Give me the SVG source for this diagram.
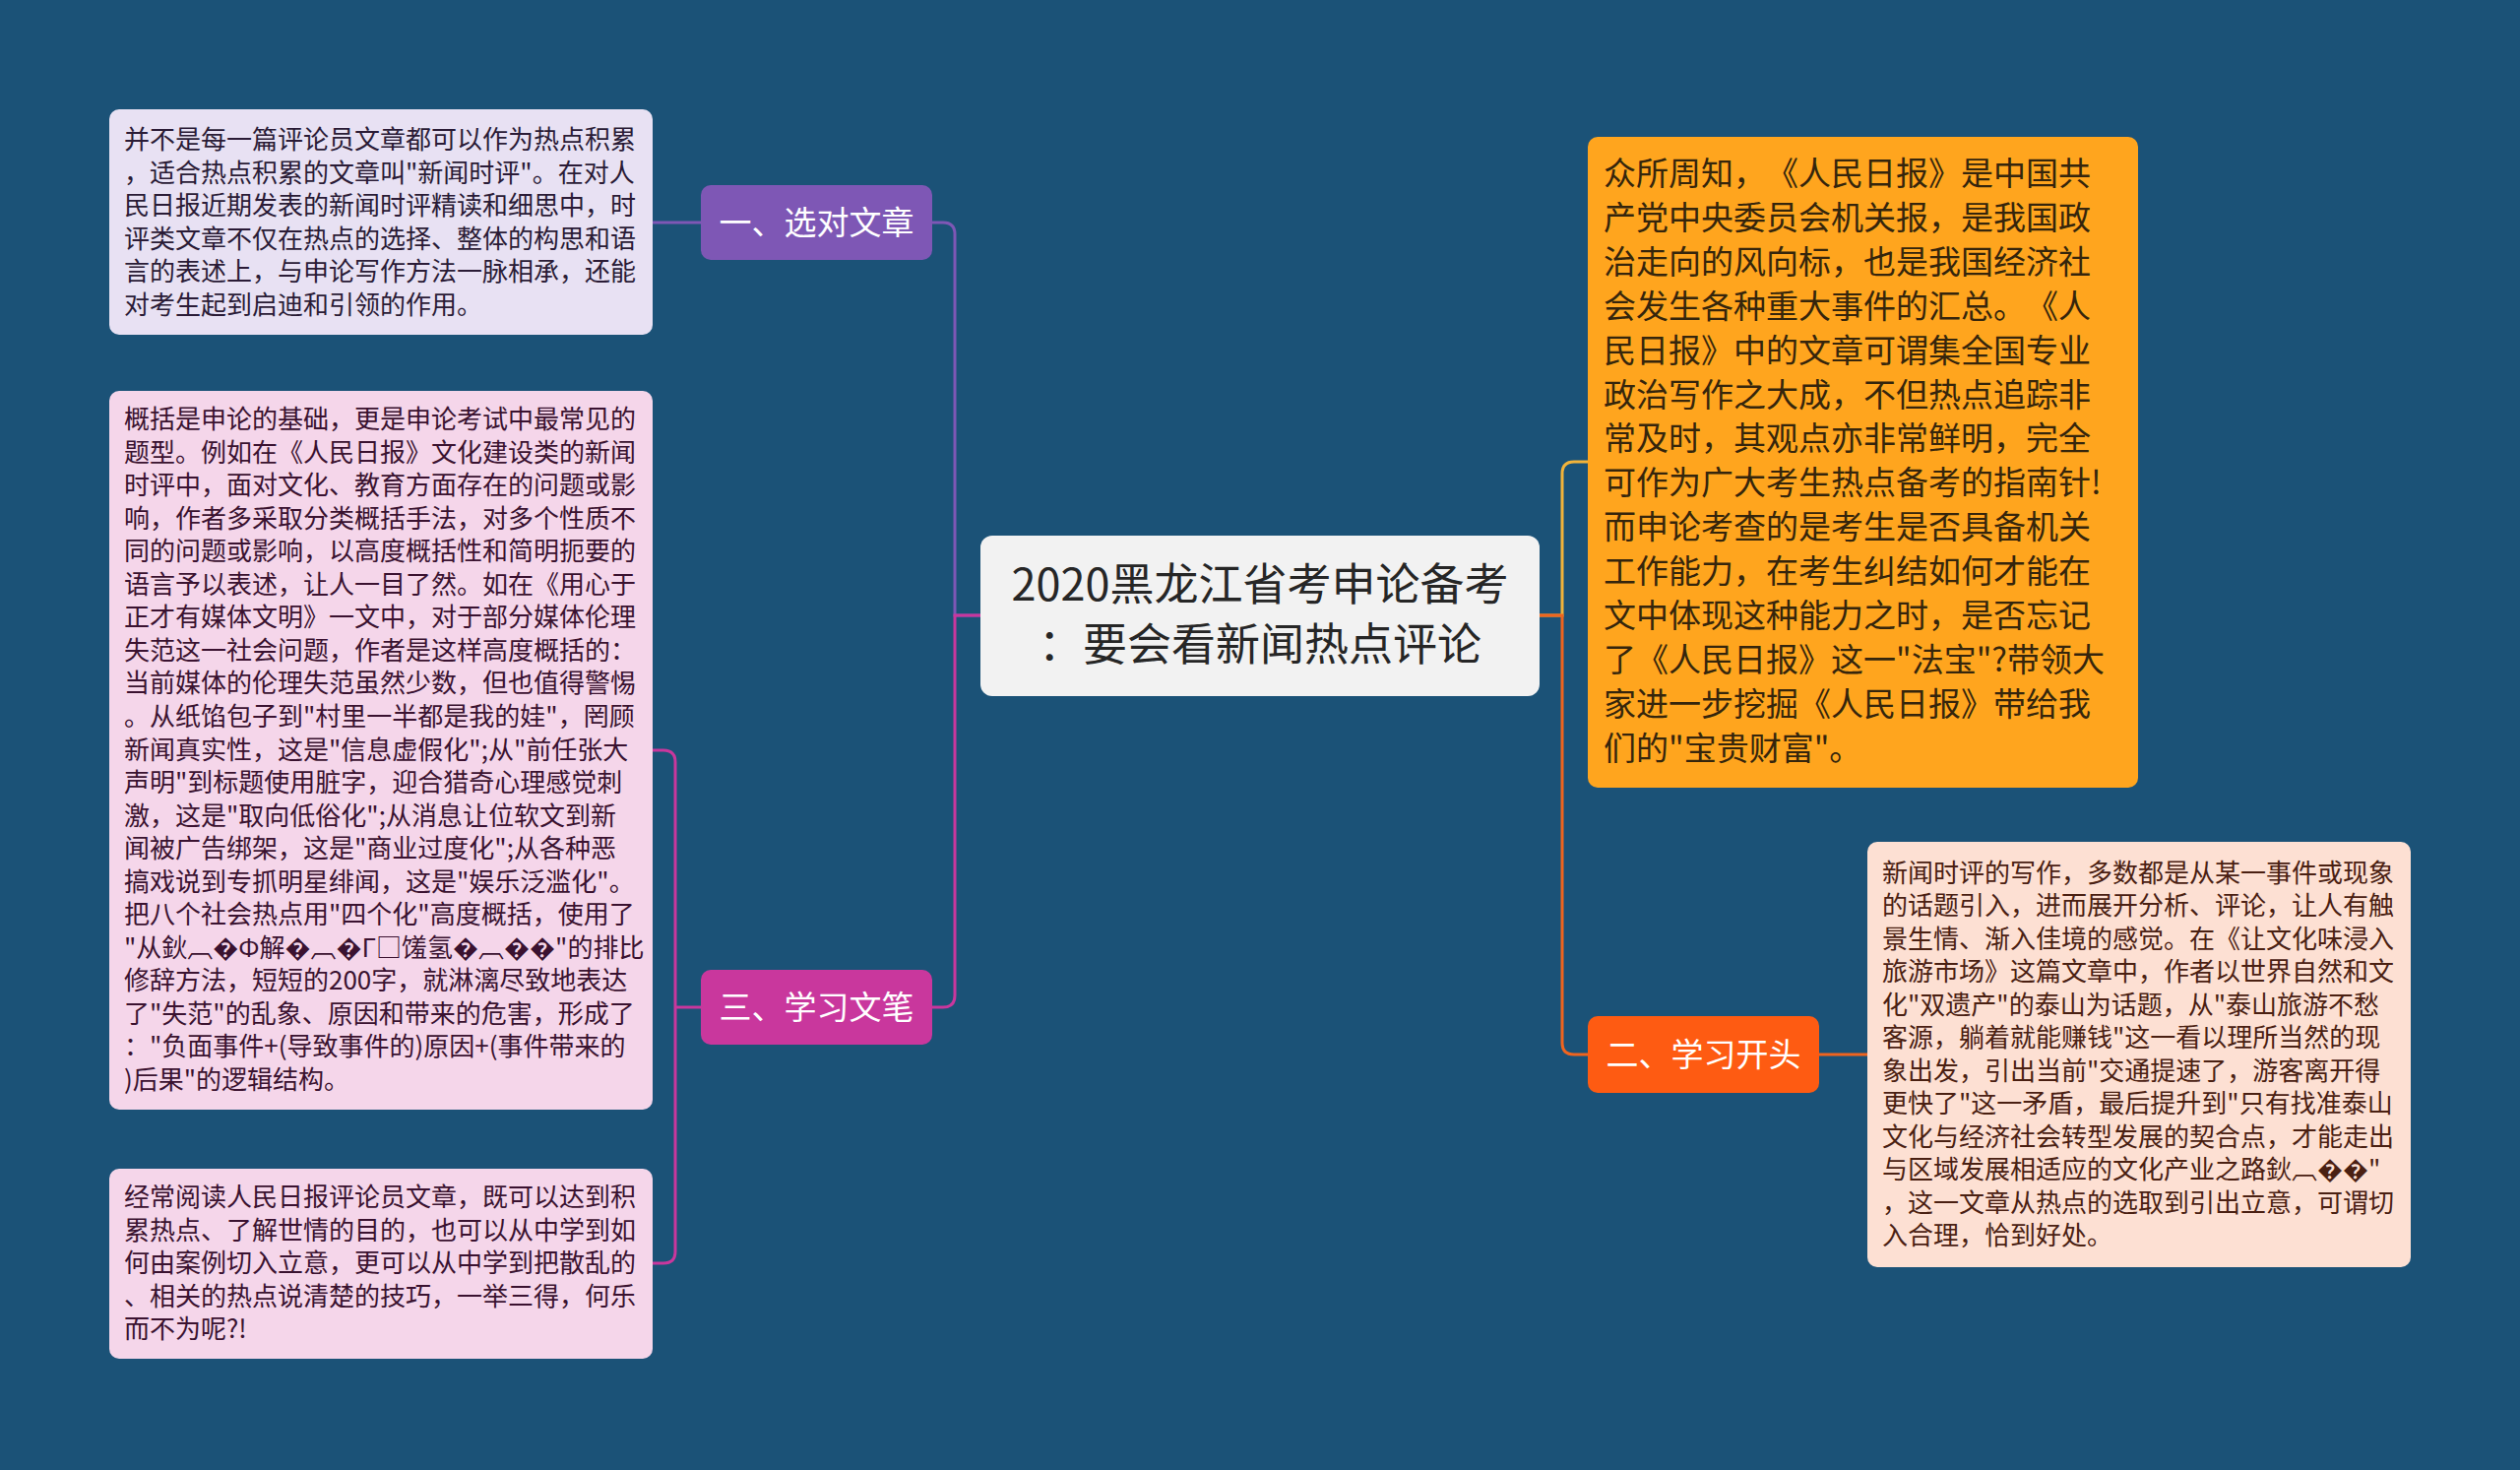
<svg xmlns="http://www.w3.org/2000/svg" width="2560" height="1493" viewBox="0 0 2560 1493">
<style>
.cjk{font-family:"Noto Sans CJK SC","Noto Sans",sans-serif;text-spacing-trim:space-all;}
.t26{font-size:26px;}
.t33{font-size:33px;}
.br{font-size:33px;fill:#ffffff;text-anchor:middle;}
.ln{fill:none;stroke-width:3;}
</style>
<rect width="2560" height="1493" fill="#1b5277"/>
<g id="connectors">
<path class="ln" stroke="#7e57b5" d="M996,625 H970 V238 Q970,226 958,226 H947"/>
<path class="ln" stroke="#7e57b5" d="M712,226 H663"/>
<path class="ln" stroke="#c9379d" d="M996,625 H970 V1011 Q970,1023 958,1023 H947"/>
<path class="ln" stroke="#c9379d" d="M712,1023 H686"/>
<path class="ln" stroke="#c9379d" d="M663,762 H674 Q686,762 686,774 V1271 Q686,1283 674,1283 H663"/>
<path class="ln" stroke="#f2b33a" d="M1564,625 H1587 V481 Q1587,469 1599,469 H1613"/>
<path class="ln" stroke="#f0641e" d="M1564,625 H1587 V1059 Q1587,1071 1599,1071 H1613"/>
<path class="ln" stroke="#f0641e" d="M1848,1071 H1897"/>
</g>
<g id="center">
<rect x="996" y="544" width="568" height="163" rx="12" fill="#f2f2f2"/>
<text class="cjk" font-size="45" fill="#262626" text-anchor="middle"><tspan x="1280" y="610">2020黑龙江省考申论备考</tspan><tspan x="1280" y="671">：要会看新闻热点评论</tspan></text>
</g>
<g id="node1">
<rect x="712" y="188" width="235" height="76" rx="10" fill="#7e57b5"/>
<text class="cjk br" x="829.5" y="238">一、选对文章</text>
</g>
<g id="node3">
<rect x="712" y="985" width="235" height="76" rx="10" fill="#c9379d"/>
<text class="cjk br" x="829.5" y="1035">三、学习文笔</text>
</g>
<g id="node2">
<rect x="1613" y="1032" width="235" height="78" rx="10" fill="#fe5b12"/>
<text class="cjk br" x="1730.5" y="1083">二、学习开头</text>
</g>
<g id="leaf1">
<rect x="111" y="111" width="552" height="229" rx="10" fill="#e8e1f3"/>
<text class="cjk t26" fill="#2a1b36">
<tspan x="126" y="151">并不是每一篇评论员文章都可以作为热点积累</tspan>
<tspan x="126" y="184.5">，适合热点积累的文章叫"新闻时评"。在对人</tspan>
<tspan x="126" y="218">民日报近期发表的新闻时评精读和细思中，时</tspan>
<tspan x="126" y="251.5">评类文章不仅在热点的选择、整体的构思和语</tspan>
<tspan x="126" y="285">言的表述上，与申论写作方法一脉相承，还能</tspan>
<tspan x="126" y="318.5">对考生起到启迪和引领的作用。</tspan>
</text>
</g>
<g id="leaf3a">
<rect x="111" y="397" width="552" height="730" rx="10" fill="#f5d6ea"/>
<text class="cjk t26" fill="#3a1230">
<tspan x="126" y="435">概括是申论的基础，更是申论考试中最常见的</tspan>
<tspan x="126" y="468.55">题型。例如在《人民日报》文化建设类的新闻</tspan>
<tspan x="126" y="502.1">时评中，面对文化、教育方面存在的问题或影</tspan>
<tspan x="126" y="535.65">响，作者多采取分类概括手法，对多个性质不</tspan>
<tspan x="126" y="569.2">同的问题或影响，以高度概括性和简明扼要的</tspan>
<tspan x="126" y="602.75">语言予以表述，让人一目了然。如在《用心于</tspan>
<tspan x="126" y="636.3">正才有媒体文明》一文中，对于部分媒体伦理</tspan>
<tspan x="126" y="669.85">失范这一社会问题，作者是这样高度概括的：</tspan>
<tspan x="126" y="703.4">当前媒体的伦理失范虽然少数，但也值得警惕</tspan>
<tspan x="126" y="736.95">。从纸馅包子到"村里一半都是我的娃"，罔顾</tspan>
<tspan x="126" y="770.5">新闻真实性，这是"信息虚假化";从"前任张大</tspan>
<tspan x="126" y="804.05">声明"到标题使用脏字，迎合猎奇心理感觉刺</tspan>
<tspan x="126" y="837.6">激，这是"取向低俗化";从消息让位软文到新</tspan>
<tspan x="126" y="871.15">闻被广告绑架，这是"商业过度化";从各种恶</tspan>
<tspan x="126" y="904.7">搞戏说到专抓明星绯闻，这是"娱乐泛滥化"。</tspan>
<tspan x="126" y="938.25">把八个社会热点用"四个化"高度概括，使用了</tspan>
<tspan x="126" y="971.8">"从鈥︹�Ф解�︹�Г□馐氢�︹��"的排比</tspan>
<tspan x="126" y="1005.35">修辞方法，短短的200字，就淋漓尽致地表达</tspan>
<tspan x="126" y="1038.9">了"失范"的乱象、原因和带来的危害，形成了</tspan>
<tspan x="126" y="1072.45">："负面事件+(导致事件的)原因+(事件带来的</tspan>
<tspan x="126" y="1106">)后果"的逻辑结构。</tspan>
</text>
</g>
<g id="leaf3b">
<rect x="111" y="1187" width="552" height="193" rx="10" fill="#f5d6ea"/>
<text class="cjk t26" fill="#3a1230">
<tspan x="126" y="1225">经常阅读人民日报评论员文章，既可以达到积</tspan>
<tspan x="126" y="1258.5">累热点、了解世情的目的，也可以从中学到如</tspan>
<tspan x="126" y="1292">何由案例切入立意，更可以从中学到把散乱的</tspan>
<tspan x="126" y="1325.5">、相关的热点说清楚的技巧，一举三得，何乐</tspan>
<tspan x="126" y="1359">而不为呢?!</tspan>
</text>
</g>
<g id="leafR1">
<rect x="1613" y="139" width="559" height="661" rx="10" fill="#ffa51e"/>
<text class="cjk t33" fill="#35250c">
<tspan x="1629" y="188">众所周知，《人民日报》是中国共</tspan>
<tspan x="1629" y="232.9">产党中央委员会机关报，是我国政</tspan>
<tspan x="1629" y="277.8">治走向的风向标，也是我国经济社</tspan>
<tspan x="1629" y="322.7">会发生各种重大事件的汇总。《人</tspan>
<tspan x="1629" y="367.6">民日报》中的文章可谓集全国专业</tspan>
<tspan x="1629" y="412.5">政治写作之大成，不但热点追踪非</tspan>
<tspan x="1629" y="457.4">常及时，其观点亦非常鲜明，完全</tspan>
<tspan x="1629" y="502.3">可作为广大考生热点备考的指南针!</tspan>
<tspan x="1629" y="547.2">而申论考查的是考生是否具备机关</tspan>
<tspan x="1629" y="592.1">工作能力，在考生纠结如何才能在</tspan>
<tspan x="1629" y="637">文中体现这种能力之时，是否忘记</tspan>
<tspan x="1629" y="681.9">了《人民日报》这一"法宝"?带领大</tspan>
<tspan x="1629" y="726.8">家进一步挖掘《人民日报》带给我</tspan>
<tspan x="1629" y="771.7">们的"宝贵财富"。</tspan>
</text>
</g>
<g id="leafR2">
<rect x="1897" y="855" width="552" height="432" rx="10" fill="#fde0d3"/>
<text class="cjk t26" fill="#4a2012">
<tspan x="1912" y="895.5">新闻时评的写作，多数都是从某一事件或现象</tspan>
<tspan x="1912" y="929">的话题引入，进而展开分析、评论，让人有触</tspan>
<tspan x="1912" y="962.5">景生情、渐入佳境的感觉。在《让文化味浸入</tspan>
<tspan x="1912" y="996">旅游市场》这篇文章中，作者以世界自然和文</tspan>
<tspan x="1912" y="1029.5">化"双遗产"的泰山为话题，从"泰山旅游不愁</tspan>
<tspan x="1912" y="1063">客源，躺着就能赚钱"这一看以理所当然的现</tspan>
<tspan x="1912" y="1096.5">象出发，引出当前"交通提速了，游客离开得</tspan>
<tspan x="1912" y="1130">更快了"这一矛盾，最后提升到"只有找准泰山</tspan>
<tspan x="1912" y="1163.5">文化与经济社会转型发展的契合点，才能走出</tspan>
<tspan x="1912" y="1197">与区域发展相适应的文化产业之路鈥︹��"</tspan>
<tspan x="1912" y="1230.5">，这一文章从热点的选取到引出立意，可谓切</tspan>
<tspan x="1912" y="1264">入合理，恰到好处。</tspan>
</text>
</g>
</svg>
